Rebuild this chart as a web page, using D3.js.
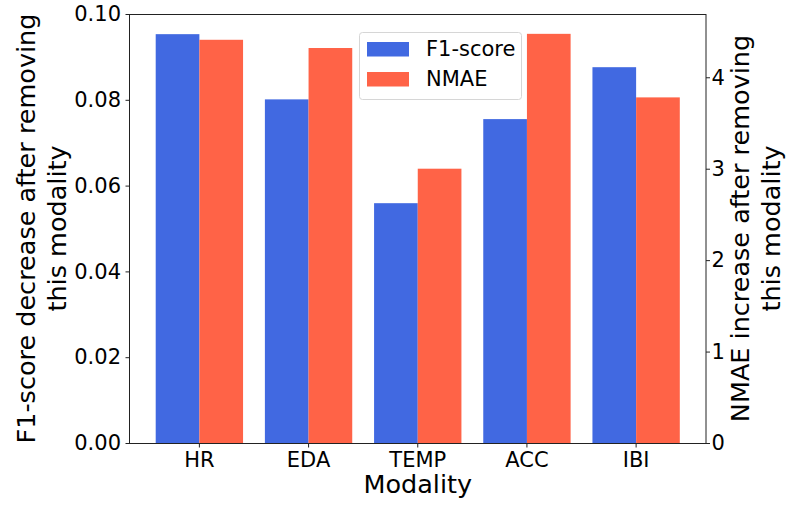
<!DOCTYPE html>
<html lang="en">
	<head>
		<meta charset="utf-8">
		<title>modality removal</title>
		<script type="text/javascript" src="https://cdn.jsdelivr.net/npm/d3@7"></script>
		<style type="text/css">
			body { margin: 0; background: #fff; }
			svg text { font-family: "DejaVu Sans", sans-serif; fill: #000; }
			.axis path, .axis line { stroke: #222; stroke-width: 1; }
		</style>
	</head>
	<body>
		<script type="text/javascript">
			//Data
			var modalities = ["HR", "EDA", "TEMP", "ACC", "IBI"];
			var f1Decrease = [0.0953, 0.0801, 0.0559, 0.0755, 0.0876];
			var nmaeIncrease = [4.41, 4.32, 3.00, 4.475, 3.78];
			var leftTicks = [0, 0.02, 0.04, 0.06, 0.08, 0.10];
			var rightTicks = [0, 1, 2, 3, 4];

			//Width and height
			var w = 788;
			var h = 506;
			var plotLeft = 129.5, plotRight = 706, plotTop = 14, plotBottom = 443;

			var svg = d3.select("body")
						.append("svg")
						.attr("width", w)
						.attr("height", h);

			var xScale = d3.scaleBand()
				.domain(modalities)
				.range([plotLeft, plotRight])
				.paddingInner(0.2)
				.paddingOuter(0.24);

			var yLeft = d3.scaleLinear()
				.domain([0, 0.1])
				.range([plotBottom, plotTop]);

			var yRight = d3.scaleLinear()
				.domain([0, 4.692])
				.range([plotBottom, plotTop]);

			var half = xScale.bandwidth() / 2;

			//F1 bars
			svg.selectAll("rect.f1")
				.data(modalities)
				.enter()
				.append("rect")
				.attr("class", "f1")
				.attr("x", function(d) { return xScale(d); })
				.attr("y", function(d, i) { return yLeft(f1Decrease[i]); })
				.attr("width", half)
				.attr("height", function(d, i) { return plotBottom - yLeft(f1Decrease[i]); })
				.attr("fill", "#4169E1");

			//NMAE bars
			svg.selectAll("rect.nmae")
				.data(modalities)
				.enter()
				.append("rect")
				.attr("class", "nmae")
				.attr("x", function(d) { return xScale(d) + half; })
				.attr("y", function(d, i) { return yRight(nmaeIncrease[i]); })
				.attr("width", half)
				.attr("height", function(d, i) { return plotBottom - yRight(nmaeIncrease[i]); })
				.attr("fill", "#FF6347");

			//frame
			svg.append("rect")
				.attr("x", plotLeft)
				.attr("y", plotTop + 0.5)
				.attr("width", plotRight - plotLeft)
				.attr("height", plotBottom - plotTop)
				.attr("fill", "none")
				.attr("stroke", "#222")
				.attr("stroke-width", 1);

			//Axes
			var xAxis = d3.axisBottom(xScale).tickSizeOuter(0).tickSize(4).tickPadding(5);
			var yAxisL = d3.axisLeft(yLeft).tickValues(leftTicks)
				.tickFormat(d3.format(".2f")).tickSizeOuter(0).tickSize(4).tickPadding(4.5);
			var yAxisR = d3.axisRight(yRight).tickValues(rightTicks)
				.tickFormat(d3.format("d")).tickSizeOuter(0).tickSize(4).tickPadding(1.5);

			svg.append("g")
				.attr("class", "axis")
				.attr("transform", "translate(0," + (plotBottom + 0.5) + ")")
				.call(xAxis)
				.selectAll("text")
				.style("font-size", "21px")
				.style("font-family", "DejaVu Sans");

			svg.append("g")
				.attr("class", "axis")
				.attr("transform", "translate(" + plotLeft + ",0)")
				.call(yAxisL)
				.selectAll("text")
				.style("font-size", "21px")
				.style("font-family", "DejaVu Sans");

			svg.append("g")
				.attr("class", "axis")
				.attr("transform", "translate(" + plotRight + ",0)")
				.call(yAxisR)
				.selectAll("text")
				.style("font-size", "21px")
				.style("font-family", "DejaVu Sans");

			svg.selectAll(".axis .domain").remove();

			//Axis labels
			svg.append("text")
				.attr("x", (plotLeft + plotRight) / 2)
				.attr("y", 493)
				.attr("text-anchor", "middle")
				.style("font-size", "25.5px")
				.text("Modality");

			var midY = (plotTop + plotBottom) / 2;
			var lLab = svg.append("text")
				.attr("transform", "translate(0," + midY + ") rotate(-90)")
				.attr("text-anchor", "middle")
				.style("font-size", "25.5px");
			lLab.append("tspan").attr("x", 0).attr("y", 35).text("F1-score decrease after removing");
			lLab.append("tspan").attr("x", 0).attr("y", 66).text("this modality");

			var rLab = svg.append("text")
				.attr("transform", "translate(0," + midY + ") rotate(-90)")
				.attr("text-anchor", "middle")
				.style("font-size", "25.5px");
			rLab.append("tspan").attr("x", 0).attr("y", 749).text("NMAE increase after removing");
			rLab.append("tspan").attr("x", 0).attr("y", 779.5).text("this modality");

			//Legend
			var legend = svg.append("g");
			legend.append("rect")
				.attr("x", 359.5)
				.attr("y", 32.5)
				.attr("width", 162)
				.attr("height", 67)
				.attr("rx", 3)
				.attr("fill", "#fff")
				.attr("fill-opacity", 0.8)
				.attr("stroke", "#d6d6d6");

			var legendItems = ["F1-score", "NMAE"];
			var legendColors = ["#4169E1", "#FF6347"];
			legendItems.forEach(function(name, i) {
				legend.append("rect")
					.attr("x", 367)
					.attr("y", 42 + i * 30)
					.attr("width", 42)
					.attr("height", 14.5)
					.attr("fill", legendColors[i]);
				legend.append("text")
					.attr("x", 426)
					.attr("y", 56 + i * 30)
					.style("font-size", "21px")
					.text(name);
			});
		</script>
	</body>
</html>
